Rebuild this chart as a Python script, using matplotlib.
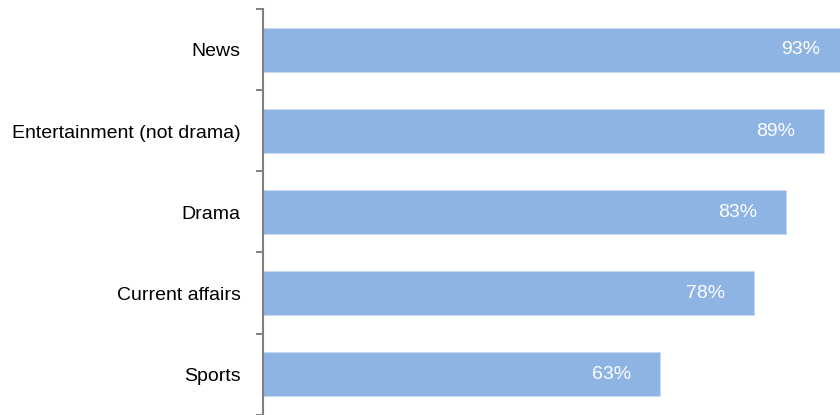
import matplotlib
matplotlib.use("Agg")
import matplotlib.pyplot as plt
import numpy as np

categories = ["News", "Entertainment (not drama)", "Drama", "Current affairs", "Sports"]
values = [93, 89, 83, 78, 63]

plt.rcParams["font.family"] = ["Liberation Sans", "DejaVu Sans"]

fig = plt.figure(figsize=(8.4, 4.15), dpi=100)
ax = fig.add_axes([263 / 840, 0.5 / 415, 1 - 263 / 840, 1 - 10 / 415])

y = np.arange(len(categories))
ax.barh(y, values, height=0.55, color="#8EB4E3", edgecolor="#C6D9F1", linewidth=0.6)

# value labels sit inside the bar end; the longest bar runs past the figure edge
for yi, v in zip(y, values):
    ax.annotate(f"{v}%", xy=(v, yi), xytext=(-29, 0), textcoords="offset pixels",
                ha="right", va="center", color="white", fontsize=14,
                annotation_clip=False)

ax.set_xlim(0, (840 - 263) / 6.3)
ax.set_ylim(len(categories) - 0.5, -0.5)

ax.set_yticks(y)
ax.set_yticklabels(categories, fontsize=14)
ax.set_yticks(np.arange(-0.5, len(categories), 1), minor=True)
ax.tick_params(axis="y", which="major", length=0, pad=16)
ax.tick_params(axis="y", which="minor", length=5, width=1.4, color="#808080")
ax.set_xticks([])

for side in ["top", "right", "bottom"]:
    ax.spines[side].set_visible(False)
ax.spines["left"].set_color("#808080")
ax.spines["left"].set_linewidth(1.5)

fig.savefig("out.png", dpi=100)
